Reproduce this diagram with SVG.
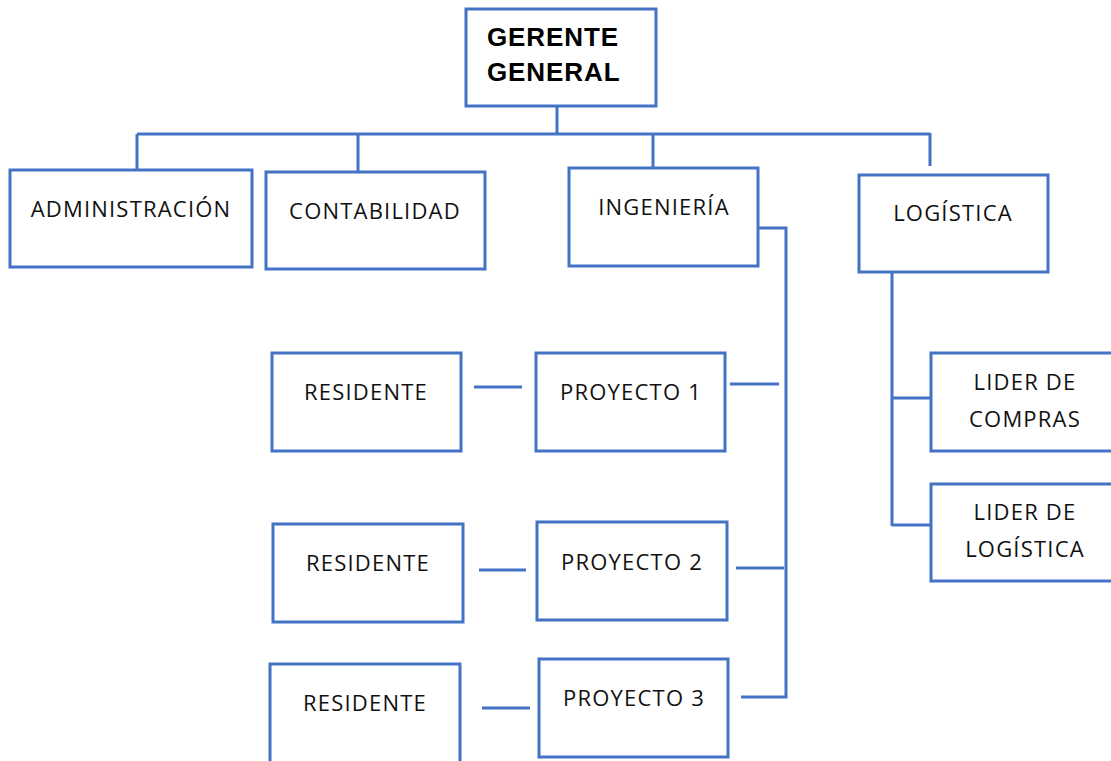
<svg xmlns="http://www.w3.org/2000/svg" width="1111" height="761" viewBox="0 0 1111 761">
<style>
.box{fill:#fff;stroke:#4472C4;stroke-width:3}
.ln{fill:none;stroke:#4472C4;stroke-width:3}
.t{font-family:"Open Sans","Liberation Sans",sans-serif;font-size:22px;letter-spacing:1.2px;fill:#111;text-anchor:middle}
.b{font-family:"Liberation Sans",Arial,sans-serif;font-size:26px;font-weight:bold;letter-spacing:0.9px;fill:#000}
</style>
<rect width="1111" height="761" fill="#fff"/>
<g id="connectors">
<path class="ln" d="M557 106V134M137 134H930M137 134V170M358 134V171M653 134V168M930 133V166"/>
<path class="ln" d="M758 228H786V697H741M730 384H779M736 568H784"/>
<path class="ln" d="M474 387H522M479 570H526M482 708H530"/>
<path class="ln" d="M892 272V526M892 398H935M892 525H930"/>
</g>
<g id="gerente"><rect class="box" x="466" y="9" width="190" height="97"/><text class="b" x="487" y="46">GERENTE</text><text class="b" x="487" y="81">GENERAL</text></g>
<g id="administracion"><rect class="box" x="10" y="170" width="242" height="97"/><text class="t" x="131" y="217">ADMINISTRACIÓN</text></g>
<g id="contabilidad"><rect class="box" x="266" y="172" width="219" height="97"/><text class="t" x="375" y="219">CONTABILIDAD</text></g>
<g id="ingenieria"><rect class="box" x="569" y="168" width="189" height="98"/><text class="t" x="664" y="215">INGENIERÍA</text></g>
<g id="logistica"><rect class="box" x="859" y="175" width="189" height="97"/><text class="t" x="953" y="221">LOGÍSTICA</text></g>
<g id="residente1"><rect class="box" x="272" y="353" width="189" height="98"/><text class="t" x="366" y="400">RESIDENTE</text></g>
<g id="proyecto1"><rect class="box" x="536" y="353" width="189" height="98"/><text class="t" x="631" y="400">PROYECTO 1</text></g>
<g id="residente2"><rect class="box" x="273" y="524" width="190" height="98"/><text class="t" x="368" y="571">RESIDENTE</text></g>
<g id="proyecto2"><rect class="box" x="537" y="522" width="190" height="98"/><text class="t" x="632" y="570">PROYECTO 2</text></g>
<g id="residente3"><rect class="box" x="270" y="664" width="190" height="100"/><text class="t" x="365" y="711">RESIDENTE</text></g>
<g id="proyecto3"><rect class="box" x="539" y="659" width="189" height="98"/><text class="t" x="634" y="706">PROYECTO 3</text></g>
<g id="lider-compras"><rect class="box" x="931" y="353" width="185" height="98"/><text class="t" x="1025" y="390">LIDER DE</text><text class="t" x="1025" y="427">COMPRAS</text></g>
<g id="lider-logistica"><rect class="box" x="931" y="484" width="185" height="97"/><text class="t" x="1025" y="520">LIDER DE</text><text class="t" x="1025" y="557">LOGÍSTICA</text></g>
</svg>
